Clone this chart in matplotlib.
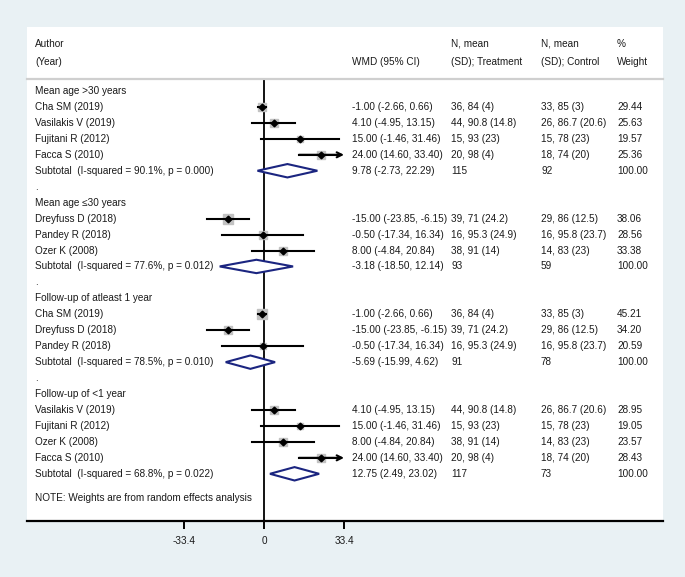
import matplotlib
matplotlib.use("Agg")
import matplotlib.pyplot as plt
from matplotlib import font_manager, transforms
from matplotlib.patches import Polygon
import numpy as np

# ---------------- data ----------------
group_titles = ["Mean age >30 years", "Mean age \u226430 years",
                "Follow-up of atleast 1 year", "Follow-up of <1 year"]

g1_authors = ["Cha SM (2019)", "Vasilakis V (2019)", "Fujitani R (2012)", "Facca S (2010)"]
g1_wmd = [-1.00, 4.10, 15.00, 24.00]
g1_lo = [-2.66, -4.95, -1.46, 14.60]
g1_hi = [0.66, 13.15, 31.46, 33.40]
g1_treat = ["36, 84 (4)", "44, 90.8 (14.8)", "15, 93 (23)", "20, 98 (4)"]
g1_ctrl = ["33, 85 (3)", "26, 86.7 (20.6)", "15, 78 (23)", "18, 74 (20)"]
g1_weight = [29.44, 25.63, 19.57, 25.36]

g2_authors = ["Dreyfuss D (2018)", "Pandey R (2018)", "Ozer K (2008)"]
g2_wmd = [-15.00, -0.50, 8.00]
g2_lo = [-23.85, -17.34, -4.84]
g2_hi = [-6.15, 16.34, 20.84]
g2_treat = ["39, 71 (24.2)", "16, 95.3 (24.9)", "38, 91 (14)"]
g2_ctrl = ["29, 86 (12.5)", "16, 95.8 (23.7)", "14, 83 (23)"]
g2_weight = [38.06, 28.56, 33.38]

g3_authors = ["Cha SM (2019)", "Dreyfuss D (2018)", "Pandey R (2018)"]
g3_wmd = [-1.00, -15.00, -0.50]
g3_lo = [-2.66, -23.85, -17.34]
g3_hi = [0.66, -6.15, 16.34]
g3_treat = ["36, 84 (4)", "39, 71 (24.2)", "16, 95.3 (24.9)"]
g3_ctrl = ["33, 85 (3)", "29, 86 (12.5)", "16, 95.8 (23.7)"]
g3_weight = [45.21, 34.20, 20.59]

g4_authors = ["Vasilakis V (2019)", "Fujitani R (2012)", "Ozer K (2008)", "Facca S (2010)"]
g4_wmd = [4.10, 15.00, 8.00, 24.00]
g4_lo = [-4.95, -1.46, -4.84, 14.60]
g4_hi = [13.15, 31.46, 20.84, 33.40]
g4_treat = ["44, 90.8 (14.8)", "15, 93 (23)", "38, 91 (14)", "20, 98 (4)"]
g4_ctrl = ["26, 86.7 (20.6)", "15, 78 (23)", "14, 83 (23)", "18, 74 (20)"]
g4_weight = [28.95, 19.05, 23.57, 28.43]

sub_i2 = ["90.1%", "77.6%", "78.5%", "68.8%"]
sub_p = ["0.000", "0.012", "0.010", "0.022"]
sub_wmd = [9.78, -3.18, -5.69, 12.75]
sub_lo = [-2.73, -18.50, -15.99, 2.49]
sub_hi = [22.29, 12.14, 4.62, 23.02]
sub_treat = ["115", "93", "91", "117"]
sub_ctrl = ["92", "59", "78", "73"]

x_ticks = [-33.4, 0, 33.4]
x_ticklabels = ["-33.4", "0", "33.4"]

# ---------------- style ----------------
names = {f.name for f in font_manager.fontManager.ttflist}
if "Liberation Sans Narrow" in names:
    FAM, FS = "Liberation Sans Narrow", 8.6
else:
    FAM, FS = "Liberation Sans", 7.2
plt.rcParams["font.family"] = [FAM, "DejaVu Sans"]
TXT = "#1a1a1a"
NAVY = "#1b2580"
BOX = "#c2c2c2"

W, H = 685, 577
fig = plt.figure(figsize=(W / 100, H / 100), dpi=100)
fig.patch.set_facecolor("#e9f1f4")

left_px, right_px, top_px, bot_px = 27, 663, 27, 521
ax = fig.add_axes([left_px / W, (H - bot_px) / H, (right_px - left_px) / W, (bot_px - top_px) / H])
ax.set_facecolor("white")

px_per_unit = 80 / 33.4
zero_px = 264
ax.set_xlim(-(zero_px - left_px) / px_per_unit, (right_px - zero_px) / px_per_unit)
row_px = 15.95
row0_px = 91
ax.set_ylim((bot_px - row0_px) / row_px, (top_px - row0_px) / row_px)

for s in ["top", "left", "right"]:
    ax.spines[s].set_visible(False)
ax.spines["bottom"].set_linewidth(1.6)
ax.spines["bottom"].set_color("black")
ax.set_yticks([])
ax.set_xticks(x_ticks)
ax.set_xticklabels(x_ticklabels)
ax.tick_params(axis="x", direction="out", length=6, width=1.4, pad=5, labelsize=FS, labelcolor=TXT)

tr = transforms.blended_transform_factory(ax.transAxes, ax.transData)
col_px = [35, 352, 451, 541, 617]
colx = [(c - left_px) / (right_px - left_px) for c in col_px]

def txt(col, y, s):
    ax.text(colx[col], y, s, transform=tr, ha="left", va="center", fontsize=FS, color=TXT)

# header
y_h1 = (44 - row0_px) / row_px
y_h2 = (62 - row0_px) / row_px
y_sep = (79 - row0_px) / row_px
txt(0, y_h1, "Author")
txt(0, y_h2, "(Year)")
txt(1, y_h2, "WMD (95% CI)")
txt(2, y_h1, "N, mean")
txt(2, y_h2, "(SD); Treatment")
txt(3, y_h1, "N, mean")
txt(3, y_h2, "(SD); Control")
txt(4, y_h1, "%")
txt(4, y_h2, "Weight")
ax.plot([0, 1], [y_sep, y_sep], transform=tr, color="#cfcfcf", lw=1.6, clip_on=False)

# zero line
ax.plot([0, 0], [y_sep, ax.get_ylim()[0]], color="black", lw=1.3, zorder=1)

groups = [
    (g1_authors, g1_wmd, g1_lo, g1_hi, g1_treat, g1_ctrl, g1_weight),
    (g2_authors, g2_wmd, g2_lo, g2_hi, g2_treat, g2_ctrl, g2_weight),
    (g3_authors, g3_wmd, g3_lo, g3_hi, g3_treat, g3_ctrl, g3_weight),
    (g4_authors, g4_wmd, g4_lo, g4_hi, g4_treat, g4_ctrl, g4_weight),
]
xmax_clip = max(x_ticks)
xmin_clip = min(x_ticks)
box_k = 1.5  # px per sqrt(weight)

row = 0
for gi, (authors, wmd, lo, hi, treat, ctrl, weight) in enumerate(groups):
    txt(0, row, group_titles[gi])
    row += 1
    for a, e, l, h, t, c, w in zip(authors, wmd, lo, hi, treat, ctrl, weight):
        txt(0, row, a)
        txt(1, row, f"{e:.2f} ({l:.2f}, {h:.2f})")
        txt(2, row, t)
        txt(3, row, c)
        txt(4, row, f"{w:.2f}")
        side = box_k * np.sqrt(w) * 0.72
        ax.plot([e], [row], marker="s", ms=side, color=BOX, mec=BOX, zorder=2)
        l2 = max(l, xmin_clip)
        h2 = min(h, xmax_clip)
        if h >= xmax_clip:
            ax.plot([l2, h2 - 1.5], [row, row], color="black", lw=1.5, zorder=3)
            ax.annotate("", xy=(h2, row), xytext=(l2, row),
                        arrowprops=dict(arrowstyle="->", color="black", lw=1.5,
                                        shrinkA=0, shrinkB=0, mutation_scale=9), zorder=3)
        else:
            ax.plot([l2, h2], [row, row], color="black", lw=1.5, zorder=3)
        ax.plot([e], [row], marker="D", ms=3.4, color="black", zorder=4)
        row += 1
    txt(0, row, f"Subtotal  (I-squared = {sub_i2[gi]}, p = {sub_p[gi]})")
    txt(1, row, f"{sub_wmd[gi]:.2f} ({sub_lo[gi]:.2f}, {sub_hi[gi]:.2f})")
    txt(2, row, sub_treat[gi])
    txt(3, row, sub_ctrl[gi])
    txt(4, row, "100.00")
    hh = 0.42
    dia = Polygon([(sub_lo[gi], row), (sub_wmd[gi], row - hh), (sub_hi[gi], row), (sub_wmd[gi], row + hh)],
                  closed=True, facecolor="white", edgecolor=NAVY, lw=1.5, zorder=5)
    ax.add_patch(dia)
    if gi < len(groups) - 1:
        row += 1
        txt(0, row, ".")
        row += 1

txt(0, row + 1.5, "NOTE: Weights are from random effects analysis")

fig.savefig("out.png", dpi=100, facecolor=fig.get_facecolor())
